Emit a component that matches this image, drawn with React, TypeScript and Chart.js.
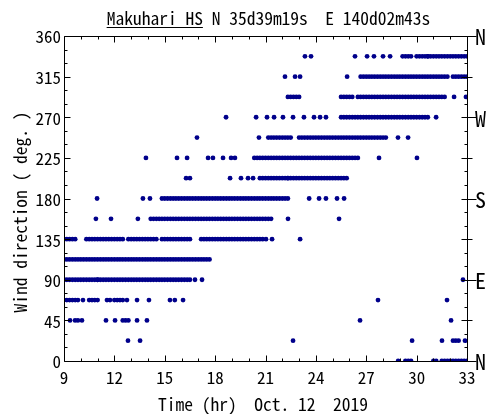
import React, { useEffect, useRef } from "react";
import { Chart, registerables } from "chart.js";
Chart.register(...registerables);

// ---- data: wind direction readings (10-min samples). Each entry is either a
// single reading time (hour) or a run [from, to] of consecutive readings.
const SAMPLE_STEP_HR = 1 / 6;
const DIR_LEVELS = [0, 22.5, 45, 67.5, 90, 112.5, 135, 157.5, 180, 202.5, 225, 247.5, 270, 292.5, 315, 337.5];

const D000 = [28.9, [29.3, 29.73], [30.98, 31.22], [31.5, 33.0]];
const D022 = [12.81, 13.53, 22.64, 29.73, 31.51, [32.23, 32.47], 32.88];
const D045 = [9.36, 9.66, 9.83, 10.07, 11.5, 12.04, [12.45, 12.75], 13.35, 13.94, 26.63, 32.05];
const D067 = [[9.06, 9.66], 9.83, 10.13, [10.55, 11.02], 11.56, 11.74, [12.04, 12.51], 12.75, 13.35, 14.06, 15.31, 15.6, 16.09, 27.7, 31.81];
const D090 = [[9.0, 10.97], [11.03, 15.31], [15.43, 16.33], 16.5, 16.8, 17.22, 32.76];
const D112 = [[9.0, 10.85], [10.97, 15.6], [15.8, 16.92], [17.1, 17.7]];
const D135 = [[9.0, 9.66], [10.25, 12.45], [12.81, 14.54], [14.84, 16.5], [17.1, 20.85], 21.03, 21.39, 23.06];
const D157 = [10.9, 11.8, 13.4, [14.12, 21.27], 22.34, 25.38];
const D180 = [10.97, 13.7, 14.12, [14.9, 22.28], 23.6, 24.19, 24.6, 25.26, 25.68];
const D202 = [16.27, 16.5, 18.89, 19.54, 19.96, 20.26, [20.67, 22.28], [22.4, 23.23], [23.41, 24.84], [25.02, 25.86]];
const D225 = [13.88, 15.73, 16.33, 17.58, 17.87, 18.47, 18.95, 19.18, [20.38, 21.27], [21.45, 23.65], [23.77, 25.92], [26.21, 26.51], 27.76, 30.02];
const D247 = [16.92, 20.61, [21.09, 22.46], [23.06, 28.12], 28.89, 29.49];
const D270 = [18.65, 20.44, 21.09, 21.51, 22.04, 22.64, 23.29, 23.89, 24.25, 24.6, [25.56, 30.62], 31.16];
const D292 = [[22.34, 23.06], [25.56, 26.21], [26.45, 31.69], 32.23, 32.94];
const D315 = [22.16, 22.76, 23.06, 25.86, [26.69, 31.81], [32.11, 33.0]];
const D337 = [23.35, 23.71, 26.33, 27.05, 27.46, 28.0, 28.42, [29.13, 29.73], [30.08, 30.62], [30.68, 33.0]];

const DIR_READINGS = [D000, D022, D045, D067, D090, D112, D135, D157, D180, D202, D225, D247, D270, D292, D315, D337];

const X_TICK_LABELS = [9, 12, 15, 18, 21, 24, 27, 30, 33];
const Y_TICK_LABELS = [0, 45, 90, 135, 180, 225, 270, 315, 360];
const COMPASS_VALUES = [0, 90, 180, 270, 360];
const COMPASS_LABELS = ["N", "E", "S", "W", "N"];

const TITLE_UNDERLINED = "Makuhari HS";
const TITLE_REST = " N 35d39m19s  E 140d02m43s";
const X_TITLE = "Time (hr)  Oct. 12  2019";
const Y_TITLE = "Wind direction ( deg. )";

const FONT = "'Noto Sans Mono CJK JP', 'DejaVu Sans Mono', monospace";

function buildPoints() {
  const pts: { x: number; y: number }[] = [];
  DIR_READINGS.forEach((list, i) => {
    const dir = DIR_LEVELS[i];
    list.forEach((e: any) => {
      if (Array.isArray(e)) {
        const a = Math.round(e[0] / SAMPLE_STEP_HR);
        const b = Math.round(e[1] / SAMPLE_STEP_HR);
        for (let k = a; k <= b; k++) pts.push({ x: k * SAMPLE_STEP_HR, y: dir });
      } else {
        pts.push({ x: e, y: dir });
      }
    });
  });
  return pts;
}

const framePlugin = {
  id: "frame",
  afterDraw(chart: any) {
    const { ctx, chartArea } = chart;
    const { left, right, top, bottom } = chartArea;
    const xs = chart.scales.x;
    const ys = chart.scales.y;
    ctx.save();
    ctx.strokeStyle = "#000";
    ctx.lineWidth = 1;
    ctx.beginPath();
    const L = left + 0.5, R = right + 0.5, T = top + 0.5, B = bottom + 0.5;
    ctx.rect(L, T, R - L, B - T);
    // x ticks
    for (let h = X_TICK_LABELS[0]; h <= X_TICK_LABELS[X_TICK_LABELS.length - 1]; h++) {
      const px = Math.round(xs.getPixelForValue(h)) + 0.5;
      const len = X_TICK_LABELS.includes(h) ? 6 : 3;
      ctx.moveTo(px, B); ctx.lineTo(px, B - len);
      ctx.moveTo(px, T); ctx.lineTo(px, T + len);
    }
    // y ticks
    for (let d = 0; d <= 360; d += 15) {
      const py = Math.round(ys.getPixelForValue(d)) + 0.5;
      const len = Y_TICK_LABELS.includes(d) ? 6 : 3;
      ctx.moveTo(L, py); ctx.lineTo(L + len, py);
      ctx.moveTo(R, py); ctx.lineTo(R - len, py);
      if (COMPASS_VALUES.includes(d)) { ctx.moveTo(R, py); ctx.lineTo(R + 9, py); }
      else if (Y_TICK_LABELS.includes(d)) { ctx.moveTo(R, py); ctx.lineTo(R + 5, py); }
    }
    ctx.stroke();

    ctx.fillStyle = "#000";
    ctx.font = `17px ${FONT}`;
    // y labels
    ctx.textAlign = "right";
    ctx.textBaseline = "middle";
    Y_TICK_LABELS.forEach((d) => {
      ctx.fillText(String(d), left - 3, ys.getPixelForValue(d) + 1);
    });
    // x labels
    ctx.textAlign = "center";
    ctx.textBaseline = "middle";
    X_TICK_LABELS.forEach((h) => {
      ctx.fillText(String(h), xs.getPixelForValue(h), bottom + 17);
    });
    // compass labels
    ctx.font = `22px ${FONT}`;
    ctx.textAlign = "left";
    COMPASS_VALUES.forEach((d, i) => {
      ctx.fillText(COMPASS_LABELS[i], right + 8, ys.getPixelForValue(d) + 1);
    });
    // axis titles
    ctx.font = `17.5px ${FONT}`;
    ctx.textAlign = "center";
    ctx.fillText(X_TITLE, 263, 404);
    ctx.save();
    ctx.translate(20, 212);
    ctx.rotate(-Math.PI / 2);
    ctx.fillText(Y_TITLE, 0, 0);
    ctx.restore();
    // title
    ctx.font = `17.5px ${FONT}`;
    ctx.textAlign = "left";
    ctx.textBaseline = "alphabetic";
    const w1 = ctx.measureText(TITLE_UNDERLINED).width;
    const w2 = ctx.measureText(TITLE_REST).width;
    const x0 = 268.5 - (w1 + w2) / 2;
    ctx.fillText(TITLE_UNDERLINED, x0, 25);
    ctx.fillText(TITLE_REST, x0 + w1, 25);
    ctx.beginPath();
    ctx.moveTo(x0, 27.5); ctx.lineTo(x0 + w1, 27.5);
    ctx.stroke();
    ctx.restore();
  },
};

export default function App() {
  const ref = useRef<HTMLCanvasElement>(null);
  useEffect(() => {
    document.body.style.margin = "0";
    const chart = new Chart(ref.current!, {
      type: "scatter",
      data: {
        datasets: [
          {
            data: buildPoints(),
            backgroundColor: "#00008b",
            borderWidth: 0,
            pointRadius: 2.4,
            clip: 0,
          } as any,
        ],
      },
      options: {
        animation: false,
        responsive: false,
        events: [],
        layout: { padding: { left: 64, right: 22, top: 36, bottom: 53 } },
        plugins: { legend: { display: false }, tooltip: { enabled: false } },
        scales: {
          x: { type: "linear", min: 9, max: 33, display: false },
          y: { type: "linear", min: 0, max: 360, display: false },
        },
      },
      plugins: [framePlugin],
    });
    return () => chart.destroy();
  }, []);
  return <canvas ref={ref} width={489} height={414} style={{ display: "block" }} />;
}
